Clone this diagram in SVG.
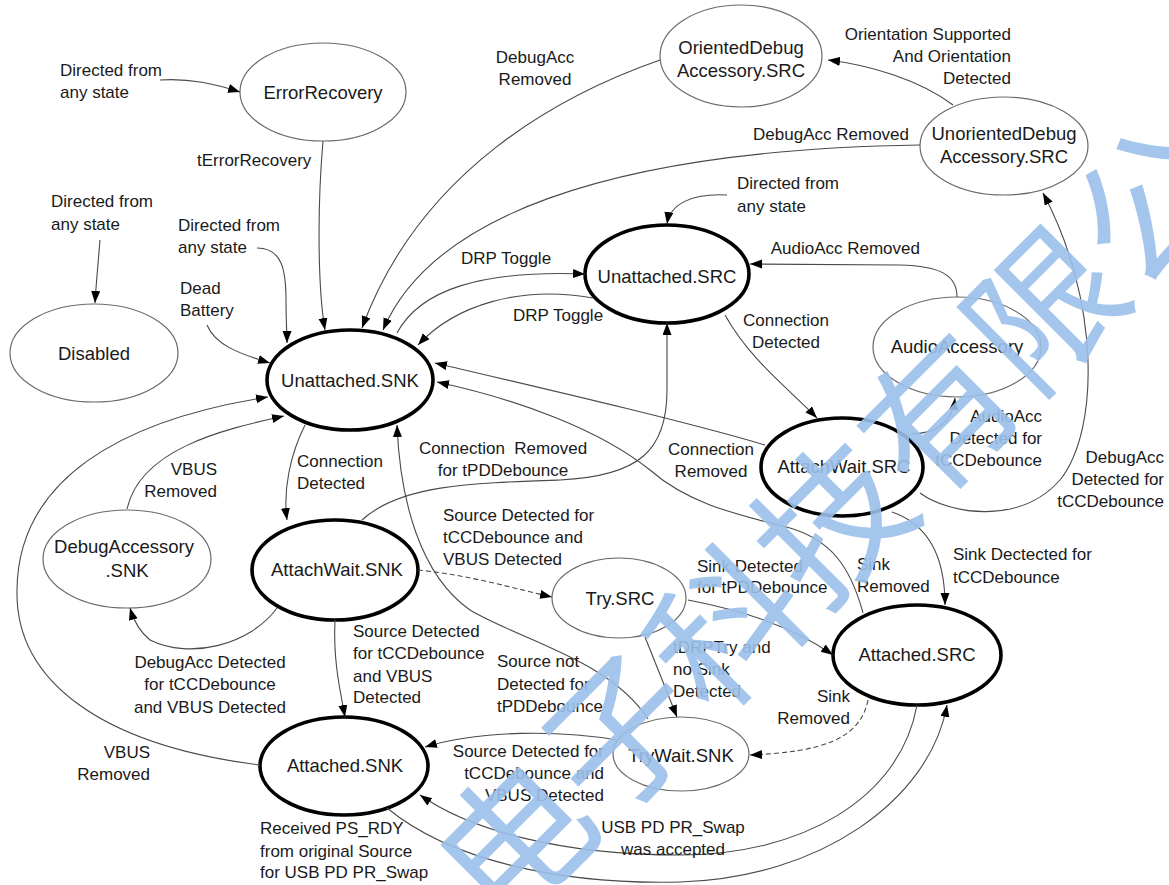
<svg xmlns="http://www.w3.org/2000/svg" width="1169" height="885" viewBox="0 0 1169 885">
<style>
.n{fill:#fff;stroke:#6a6a6a;stroke-width:1.2}
.b{fill:#fff;stroke:#000;stroke-width:3.6}
.nt{font-family:"Liberation Sans",Arial,sans-serif;font-size:18.5px;fill:#1a1a1a;text-anchor:middle}
.e{fill:none;stroke:#4a4a4a;stroke-width:1.1;marker-end:url(#ah)}
.d{stroke-dasharray:5 3}
.l{font-family:"Liberation Sans",Arial,sans-serif;font-size:17px;fill:#1a1a1a}
.m{text-anchor:middle}
.r{text-anchor:end}
.wm{font-family:"Noto Sans CJK SC",sans-serif;font-size:150px;fill:#9cc0ea;opacity:0.9}
</style>
<defs>
<marker id="ah" markerUnits="userSpaceOnUse" markerWidth="13" markerHeight="10" refX="12" refY="4.5" orient="auto">
<path d="M0,0 L12,4.5 L0,9 z" fill="#000"/>
</marker>
</defs>
<rect width="1169" height="885" fill="#fff"/>

<g id="ErrorRecovery"><ellipse class="n" cx="323" cy="92" rx="83" ry="49"/><text class="nt" x="323" y="99">ErrorRecovery</text></g>
<g id="OrientedDebugAccessory.SRC"><ellipse class="n" cx="741" cy="56" rx="81" ry="51"/><text class="nt" x="741" y="54">OrientedDebug</text><text class="nt" x="741" y="77">Accessory.SRC</text></g>
<g id="UnorientedDebugAccessory.SRC"><ellipse class="n" cx="1004" cy="146" rx="84" ry="49"/><text class="nt" x="1004" y="140">UnorientedDebug</text><text class="nt" x="1004" y="163">Accessory.SRC</text></g>
<g id="Disabled"><ellipse class="n" cx="94" cy="353" rx="84" ry="49"/><text class="nt" x="94" y="360">Disabled</text></g>
<g id="Unattached.SNK"><ellipse class="b" cx="350" cy="380" rx="83" ry="50"/><text class="nt" x="350" y="387">Unattached.SNK</text></g>
<g id="Unattached.SRC"><ellipse class="b" cx="667" cy="274" rx="82" ry="49"/><text class="nt" x="667" y="283">Unattached.SRC</text></g>
<g id="AudioAccessory"><ellipse class="n" cx="957" cy="347" rx="84" ry="50"/><text class="nt" x="957" y="353">AudioAccessory</text></g>
<g id="AttachWait.SRC"><ellipse class="b" cx="842" cy="467" rx="81" ry="49"/><text class="nt" x="844" y="473">AttachWait.SRC</text></g>
<g id="DebugAccessory.SNK"><ellipse class="n" cx="127" cy="559" rx="84" ry="49"/><text class="nt" x="124" y="553">DebugAccessory</text><text class="nt" x="127" y="577">.SNK</text></g>
<g id="AttachWait.SNK"><ellipse class="b" cx="335" cy="570" rx="83" ry="50"/><text class="nt" x="337" y="576">AttachWait.SNK</text></g>
<g id="Try.SRC"><ellipse class="n" cx="619" cy="598" rx="67" ry="40"/><text class="nt" x="620" y="605">Try.SRC</text></g>
<g id="Attached.SRC"><ellipse class="b" cx="917" cy="655" rx="84" ry="50"/><text class="nt" x="917" y="661">Attached.SRC</text></g>
<g id="Attached.SNK"><ellipse class="b" cx="344" cy="766" rx="84" ry="49"/><text class="nt" x="345" y="772">Attached.SNK</text></g>
<g id="TryWait.SNK"><ellipse class="n" cx="681" cy="754" rx="68" ry="37"/><text class="nt" x="681" y="762">TryWait.SNK</text></g>

<g id="connectors">
<path class="e" d="M160,80 C190,78 215,84 240,92"/>
<path class="e" d="M323,141 C317,210 318,290 325,330"/>
<path class="e" d="M100,240 C98,265 96,285 95,303"/>
<path class="e" d="M257,248 C282,248 286,270 286,300 C286,320 287,335 287,343"/>
<path class="e" d="M207,325 C215,345 240,354 270,363"/>
<path class="e" d="M660,60 C560,95 420,170 362,328"/>
<path class="e" d="M920,145 C600,150 430,220 383,330"/>
<path class="e" d="M953,105 C920,80 870,65 828,60"/>
<path class="e" d="M727,195 C690,193 670,205 667,224"/>
<path class="e" d="M957,297 C957,275 940,266 900,265 L750,264"/>
<path class="e" d="M397,333 C420,290 480,270 585,274"/>
<path class="e" d="M593,298 C520,285 455,305 418,345"/>
<path class="e" d="M725,315 C750,360 790,390 817,418"/>
<path class="e" d="M765,445 C680,420 550,390 435,363"/>
<path class="e" d="M863,613 C850,565 830,540 790,528 C740,515 690,505 650,470 C600,430 520,400 437,382"/>
<path class="e" d="M362,520 C400,485 470,483 560,480 C640,476 667,450 667,390 L667,323"/>
<path class="e" d="M305,425 C290,455 283,490 287,520"/>
<path class="e" d="M127,509 C140,450 220,430 284,416"/>
<path class="e" d="M260,765 C100,745 15,680 17,590 C18,480 120,420 268,397"/>
<path class="e" d="M277,608 C250,645 190,660 150,640 C140,632 134,622 130,608"/>
<path class="e d" d="M418,570 C470,575 520,590 552,597"/>
<path class="e" d="M335,620 C333,660 340,690 345,717"/>
<path class="e" d="M648,719 C610,660 520,640 470,610 C420,575 400,500 397,425"/>
<path class="e" d="M617,740 C560,730 480,730 425,747"/>
<path class="e" d="M645,637 L677,717"/>
<path class="e" d="M688,600 C740,610 790,625 833,655"/>
<path class="e" d="M892,512 C930,525 945,560 945,605"/>
<path class="e" d="M912,434 C935,433 952,425 955,398"/>
<path class="e" d="M920,493 C950,515 1020,525 1060,480 C1100,430 1100,300 1043,193"/>
<path class="e d" d="M868,700 C860,740 820,752 750,755"/>
<path class="e" d="M917,705 C900,800 800,855 680,855 C560,855 470,830 420,795"/>
<path class="e" d="M387,808 C450,860 560,885 680,882 C820,878 930,800 947,705"/>
</g>

<g id="labels" class="l">
<text x="60" y="76">Directed from</text><text x="60" y="98">any state</text>
<text x="197" y="166">tErrorRecovery</text>
<text x="51" y="207">Directed from</text><text x="51" y="230">any state</text>
<text x="178" y="231">Directed from</text><text x="178" y="253">any state</text>
<text x="180" y="294">Dead</text><text x="180" y="316">Battery</text>
<text class="m" x="535" y="63">DebugAcc</text><text class="m" x="535" y="85">Removed</text>
<text class="r" x="1011" y="40">Orientation Supported</text><text class="r" x="1011" y="62">And Orientation</text><text class="r" x="1011" y="84">Detected</text>
<text class="r" x="909" y="140">DebugAcc Removed</text>
<text x="737" y="189">Directed from</text><text x="737" y="212">any state</text>
<text class="r" x="920" y="254">AudioAcc Removed</text>
<text x="461" y="264">DRP Toggle</text>
<text x="513" y="321">DRP Toggle</text>
<text class="m" x="786" y="326">Connection</text><text class="m" x="786" y="348">Detected</text>
<text x="297" y="467">Connection</text><text x="297" y="489">Detected</text>
<text class="r" x="217" y="475">VBUS</text><text class="r" x="217" y="497">Removed</text>
<text class="m" x="503" y="454" xml:space="preserve">Connection  Removed</text><text class="m" x="503" y="476">for tPDDebounce</text>
<text class="m" x="711" y="455">Connection</text><text class="m" x="711" y="477">Removed</text>
<text x="443" y="521">Source Detected for</text><text x="443" y="543">tCCDebounce and</text><text x="443" y="565">VBUS Detected</text>
<text x="697" y="572">Sink Detected</text><text x="697" y="593">for tPDDebounce</text>
<text x="857" y="570">Sink</text><text x="857" y="592">Removed</text>
<text x="953" y="560">Sink Dectected for</text><text x="953" y="583">tCCDebounce</text>
<text class="r" x="1042" y="422">AudioAcc</text><text class="r" x="1042" y="444">Detected for</text><text class="r" x="1042" y="466">tCCDebounce</text>
<text class="r" x="1164" y="463">DebugAcc</text><text class="r" x="1164" y="485">Detected for</text><text class="r" x="1164" y="507">tCCDebounce</text>
<text class="m" x="210" y="668">DebugAcc Detected</text><text class="m" x="210" y="690">for tCCDebounce</text><text class="m" x="210" y="713">and VBUS Detected</text>
<text x="353" y="637">Source Detected</text><text x="353" y="659">for tCCDebounce</text><text x="353" y="682">and VBUS</text><text x="353" y="703">Detected</text>
<text x="497" y="667">Source not</text><text x="497" y="690">Detected for</text><text x="497" y="712">tPDDebounce</text>
<text x="673" y="653">tDRPTry and</text><text x="673" y="675">no Sink</text><text x="673" y="697">Detected</text>
<text class="r" x="850" y="702">Sink</text><text class="r" x="850" y="724">Removed</text>
<text class="r" x="604" y="757">Source Detected for</text><text class="r" x="604" y="779">tCCDebounce and</text><text class="r" x="604" y="801">VBUS Detected</text>
<text class="r" x="150" y="758">VBUS</text><text class="r" x="150" y="780">Removed</text>
<text x="260" y="834">Received PS_RDY</text><text x="260" y="857">from original Source</text><text x="260" y="878">for USB PD PR_Swap</text>
<text class="m" x="673" y="833">USB PD PR_Swap</text><text class="m" x="673" y="855">was accepted</text>
</g>

<g id="watermark" transform="translate(515,840) rotate(-45)">
<text class="wm" x="-75" y="55">电子科技有限公</text>
</g>
</svg>
